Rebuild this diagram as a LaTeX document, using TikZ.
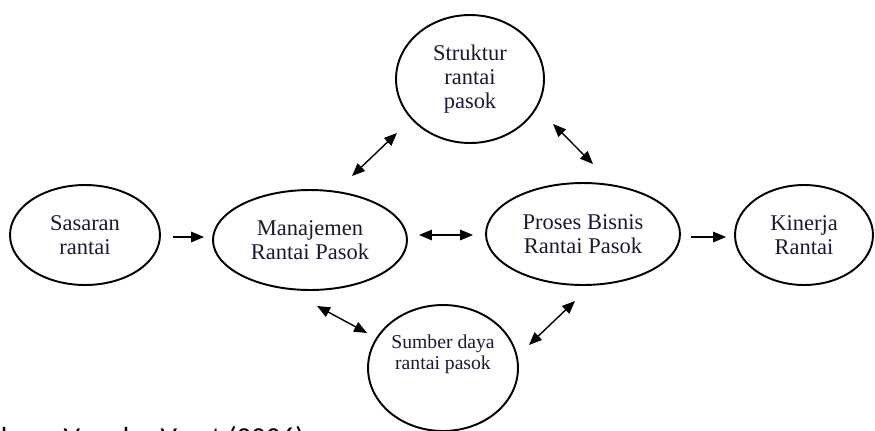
\documentclass[tikz,border=0pt]{standalone}
\usepackage{fontspec}
\setmainfont{Liberation Serif}
\newfontfamily\srcfont{Carlito}
\usetikzlibrary{shapes.geometric}
\usetikzlibrary{arrows.meta}
\usetikzlibrary{calc}
\definecolor{inktext}{RGB}{25,25,50}

\begin{document}
\begin{tikzpicture}[x=0.02cm, y=-0.02cm, >={Triangle[length=0.26cm,width=0.21cm]}, line width=0.8pt,
    blob/.style={ellipse, draw, line width=1.1pt, inner sep=0pt, align=center, text=inktext,
      font=\fontsize{12.8}{13.6}\selectfont}]
      \useasboundingbox (0,0) rectangle (875,430);

      \node at (85,235)
      [blob, minimum width=3cm, minimum height=2cm, name=sas] {Sasaran\\rantai};

      \node at (310,240)
      [blob, minimum width=3.88cm, minimum height=2cm, name=man] {Manajemen\\Rantai Pasok};

      \node at (583,234)
      [blob, minimum width=3.88cm, minimum height=2.04cm, name=pro] {Proses Bisnis\\Rantai Pasok};

      \node at (804,235)
      [blob, minimum width=2.76cm, minimum height=2cm, name=kin] {Kinerja\\Rantai};

      \node at (470,79)
      [blob, minimum width=2.96cm, minimum height=2.56cm, name=str] {Struktur\\rantai\\pasok};

      \node at (443,368)
      [blob, minimum width=3cm, minimum height=2.52cm, name=sum,
      font=\fontsize{11.2}{11.8}\selectfont] {Sumber daya\\rantai pasok\\[6pt]~};

      \draw [->] ($(sas.east) + (12, 2)$) -- ($(man.west) + (-8, -3)$);
      \draw [<->] ($(man.east) + (11, -5)$) -- ($(pro.west) + (-12, 1)$);
      \draw [->] ($(pro.east) + (10, 3)$) -- ($(kin.west) + (-8, 2)$);

      \draw [<->] ($(man.north) + (42, -13)$) -- ($(str.south) + (-73, -11)$);
      \draw [<->] ($(str.south) + (83, -20)$) -- ($(pro.north) + (10, -18)$);
      \draw [<->] ($(man.south) + (7, 15)$) -- ($(sum.west) + (0, -35)$);
      \draw [<->] ($(sum.east) + (10, -23)$) -- ($(pro.south) + (-8, 15)$);

      \node at (305,447) [anchor=base east, inner sep=0pt, name=src,
      font=\srcfont\fontsize{16.5}{19}\selectfont] {Sumber : Van der Vorst (2006)};
    \end{tikzpicture}
\end{document}
